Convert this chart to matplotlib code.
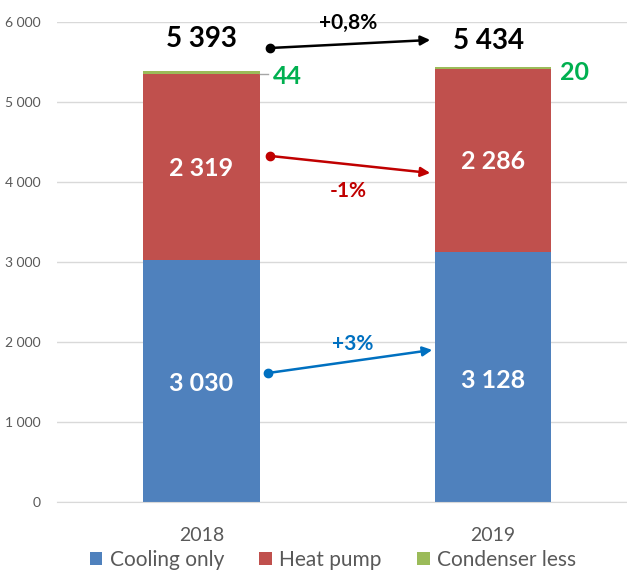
import matplotlib.pyplot as plt
from matplotlib.ticker import FuncFormatter

plt.rcParams['font.family'] = ['Lato', 'DejaVu Sans']

years = ["2018", "2019"]
cooling_only = [3030, 3128]
heat_pump = [2319, 2286]
condenser_less = [44, 20]
totals = [5393, 5434]
series_names = ["Cooling only", "Heat pump", "Condenser less"]
changes = ["+0,8%", "-1%", "+3%"]

BLUE = "#4F81BD"
RED = "#C0504D"
GREEN = "#9BBB59"

fig = plt.figure(figsize=(6.27, 5.71), dpi=100)
ax = fig.add_axes([0.091, 0.121, 0.909, 0.8405])

x = list(range(len(years)))
w = 0.40
bottom2 = [a + b for a, b in zip(cooling_only, heat_pump)]
ax.bar(x, cooling_only, w, color=BLUE, label=series_names[0], zorder=2)
ax.bar(x, heat_pump, w, bottom=cooling_only, color=RED, label=series_names[1], zorder=2)
ax.bar(x, condenser_less, w, bottom=bottom2, color=GREEN, label=series_names[2], zorder=2)

# segment labels
for i in x:
    ax.text(i, cooling_only[i] / 2 - 40, f"{cooling_only[i]:,}".replace(",", " "),
            ha="center", va="center", color="white", fontsize=18, fontweight="bold")
    ax.text(i, cooling_only[i] + heat_pump[i] / 2 - 20, f"{heat_pump[i]:,}".replace(",", " "),
            ha="center", va="center", color="white", fontsize=18, fontweight="bold")

# totals
ax.text(0, 5787, f"{totals[0]:,}".replace(",", " "), ha="center", va="center",
        fontsize=20, fontweight="bold", color="black")
ax.text(0.985, 5762, f"{totals[1]:,}".replace(",", " "), ha="center", va="center",
        fontsize=20, fontweight="bold", color="black")

# condenser less labels
ax.plot([0.2, 0.23], [5350, 5350], color="#A6A6A6", lw=1, zorder=3)
ax.text(0.245, 5320, str(condenser_less[0]), ha="left", va="center",
        fontsize=18, fontweight="bold", color="#00B050")
ax.text(1.23, 5365, str(condenser_less[1]), ha="left", va="center",
        fontsize=18, fontweight="bold", color="#00B050")

# change arrows
arrows = [((0.237, 5675), (0.785, 5775), "black", (0.505, 5985)),
          ((0.237, 4325), (0.785, 4112), "#C00000", (0.505, 3890)),
          ((0.230, 1612), (0.792, 1900), "#0070C0", (0.52, 1980))]
for (start, end, col, lab), txt in zip(arrows, changes):
    ax.annotate("", xy=end, xytext=start,
                arrowprops=dict(arrowstyle="-|>", color=col, lw=1.8,
                                mutation_scale=14, shrinkA=0, shrinkB=0), zorder=4)
    ax.plot(*start, "o", color=col, ms=6, zorder=4)
    ax.text(lab[0], lab[1], txt, ha="center", va="center", fontsize=15,
            fontweight="bold", color=col)

ax.set_ylim(0, 6000)
ax.set_xlim(-0.495, 1.46)
ax.set_yticks(range(0, 6001, 1000))
ax.yaxis.set_major_formatter(FuncFormatter(lambda v, p: f"{int(v):,}".replace(",", " ")))
ax.set_xticks(x)
ax.set_xticklabels(years)
ax.tick_params(axis="y", length=0, labelsize=10, labelcolor="#595959", pad=12)
ax.tick_params(axis="x", length=0, labelsize=14, labelcolor="#595959", pad=18)
ax.grid(axis="y", color="#D9D9D9", lw=1, zorder=0)
for s in ["top", "right", "left"]:
    ax.spines[s].set_visible(False)
ax.spines["bottom"].set_color("#D9D9D9")

ax.legend(loc="lower center", bbox_to_anchor=(0.484, -0.18), ncol=3, frameon=False,
          fontsize=15, handlelength=0.6, handleheight=0.6, handletextpad=0.35,
          columnspacing=1.7, labelcolor="#595959")

fig.savefig("out.png", dpi=100)
